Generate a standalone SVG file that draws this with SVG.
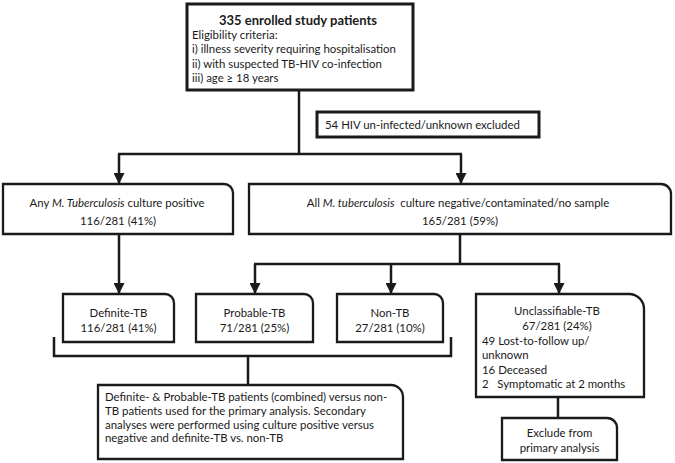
<svg xmlns="http://www.w3.org/2000/svg" width="675" height="463" viewBox="0 0 675 463">
<defs>
<style>
.bx{fill:#fff;stroke:#1a1a1a;stroke-width:2.3}
.bxt{fill:#fff;stroke:#1a1a1a;stroke-width:3}
.ln{fill:none;stroke:#1a1a1a;stroke-width:2.5}
text{font-family:Lato,"Open Sans","DejaVu Sans",sans-serif;font-size:11.4px;fill:#1a1a1a}
.c{text-anchor:middle}
.b{font-weight:bold;font-size:13px}
.i{font-style:italic}
</style>
<marker id="ah" viewBox="0 0 10 10" refX="10" refY="5" markerWidth="11" markerHeight="11" markerUnits="userSpaceOnUse" orient="auto">
<path d="M0,0 L10,5 L0,10 z" fill="#1a1a1a"/>
</marker>
</defs>
<g id="connectors">
<path class="ln" d="M299,90 V154"/>
<path class="ln" d="M118,154 H462"/>
<path class="ln" d="M119,154 V184" marker-end="url(#ah)"/>
<path class="ln" d="M461,154 V184" marker-end="url(#ah)"/>
<path class="ln" d="M119,234 V294" marker-end="url(#ah)"/>
<path class="ln" d="M460,234 V264"/>
<path class="ln" d="M254,264 H560"/>
<path class="ln" d="M255,264 V294" marker-end="url(#ah)"/>
<path class="ln" d="M391,264 V294" marker-end="url(#ah)"/>
<path class="ln" d="M559,264 V294" marker-end="url(#ah)"/>
<path class="ln" d="M54,337 V356 H451 V337"/>
<path class="ln" d="M248,356 V385"/>
<path class="ln" d="M558,397 V418"/>
</g>
<g id="enrolled">
<rect class="bxt" x="187" y="4" width="226" height="86"/>
<text class="c b" x="298" y="25">335 enrolled study patients</text>
<text x="192" y="39">Eligibility criteria:</text>
<text x="192" y="53">i) illness severity requiring hospitalisation</text>
<text x="192" y="67.5">ii) with suspected TB-HIV co-infection</text>
<text x="192" y="82">iii) age ≥ 18 years</text>
</g>
<g id="excluded">
<rect class="bxt" x="317" y="112" width="222" height="25"/>
<text x="325" y="129">54 HIV un-infected/unknown excluded</text>
</g>
<g id="culture-positive">
<path class="bx" d="M3,184 H224 A9,9 0 0 1 233,193 V234 H3 Z"/>
<text class="c" x="117" y="207">Any <tspan class="i">M. Tuberculosis</tspan> culture positive</text>
<text class="c" x="118" y="225">116/281 (41%)</text>
</g>
<g id="culture-negative">
<path class="bx" d="M249,184 H661 A10,10 0 0 1 671,194 V234 H249 Z"/>
<text class="c" x="458" y="207" xml:space="preserve">All <tspan class="i">M. tuberculosis</tspan>  culture negative/contaminated/no sample</text>
<text class="c" x="460" y="225">165/281 (59%)</text>
</g>
<g id="definite-tb">
<path class="bx" d="M63,294 H165 A9,9 0 0 1 174,303 V342 H63 Z"/>
<text class="c" x="118.5" y="317">Definite-TB</text>
<text class="c" x="118.5" y="332">116/281 (41%)</text>
</g>
<g id="probable-tb">
<path class="bx" d="M196,294 H304 A9,9 0 0 1 313,303 V342 H196 Z"/>
<text class="c" x="254.5" y="317">Probable-TB</text>
<text class="c" x="254.5" y="332">71/281 (25%)</text>
</g>
<g id="non-tb">
<path class="bx" d="M337,294 H434 A9,9 0 0 1 443,303 V342 H337 Z"/>
<text class="c" x="390" y="317">Non-TB</text>
<text class="c" x="390" y="332">27/281 (10%)</text>
</g>
<g id="unclassifiable-tb">
<path class="bx" d="M476,294 H629 A15,15 0 0 1 644,309 V397 H476 Z"/>
<text class="c" x="557" y="315">Unclassifiable-TB</text>
<text class="c" x="557" y="330">67/281 (24%)</text>
<text x="482" y="345">49 Lost-to-follow up/</text>
<text x="482" y="359">unknown</text>
<text x="482" y="374">16 Deceased</text>
<text x="482" y="388" xml:space="preserve">2   Symptomatic at 2 months</text>
</g>
<g id="primary-analysis">
<path class="bx" d="M98,385 H391 A12,12 0 0 1 403,397 V459 H98 Z"/>
<text x="105" y="401">Definite- &amp; Probable-TB patients (combined) versus non-</text>
<text x="105" y="415">TB patients used for the primary analysis. Secondary</text>
<text x="105" y="428.5">analyses were performed using culture positive versus</text>
<text x="105" y="442">negative and definite-TB vs. non-TB</text>
</g>
<g id="exclude">
<path class="bx" d="M502,418 H607 A10,10 0 0 1 617,428 V460 H502 Z"/>
<text class="c" x="559.5" y="437">Exclude from</text>
<text class="c" x="559.5" y="452">primary analysis</text>
</g>
</svg>
